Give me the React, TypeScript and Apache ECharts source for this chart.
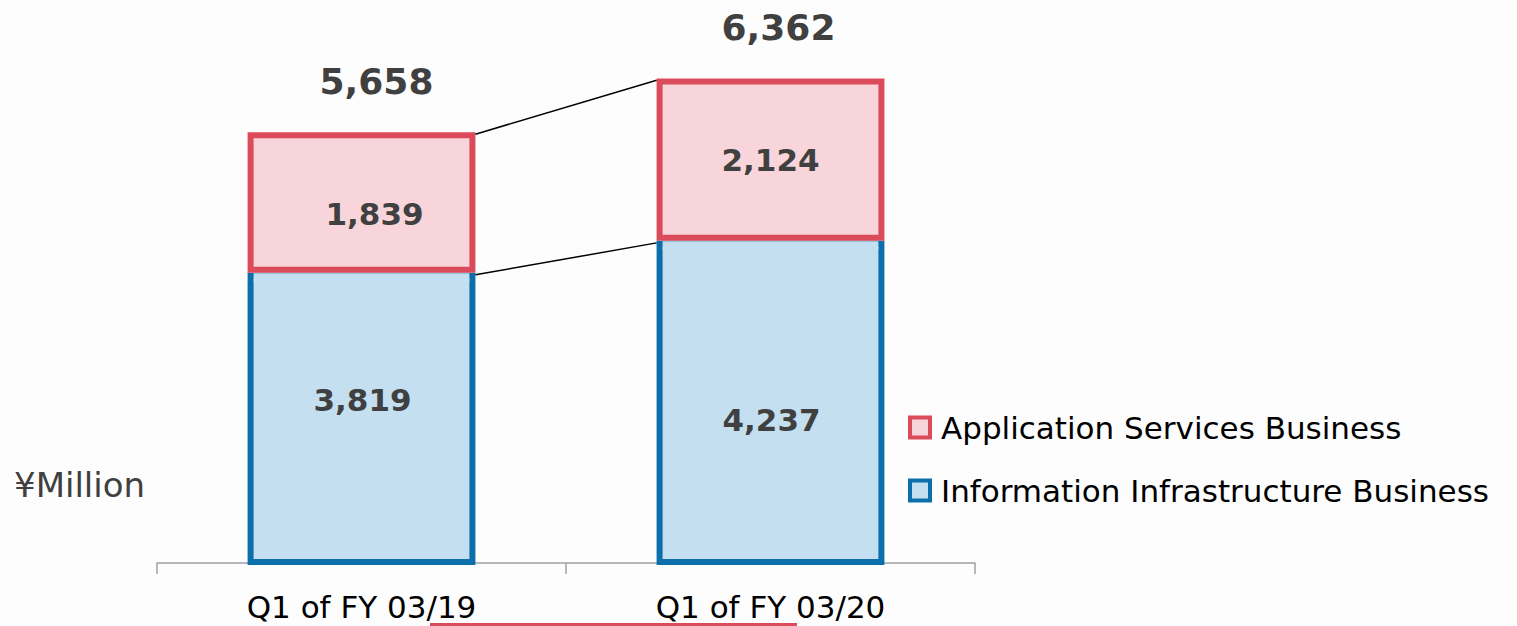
import React, { useEffect, useRef } from "react";
import * as echarts from "echarts";

const categories = ["Q1 of FY 03/19", "Q1 of FY 03/20"];
const infraValues = [3819, 4237];
const appValues = [1839, 2124];
const totals = [5658, 6362];
const seriesNames = ["Application Services Business", "Information Infrastructure Business"];

const FONT = "'DejaVu Sans', Verdana, sans-serif";
const RED = "#DB4B5A";
const PINK = "#F8D5DA";
const BLUE = "#0C6EAB";
const LIGHTBLUE = "#C3DFF0";
const NUM = "#404040";
const BAR_FRAC = 0.557;
const BORDER = 6;

const fmt = (v: number) => v.toLocaleString("en-US");

export default function App() {
  const ref = useRef<HTMLDivElement>(null);
  useEffect(() => {
    if (!ref.current) return;
    const chart = echarts.init(ref.current, undefined, { renderer: "svg" });
    const appOffsets = [[13, 11], [0, 0]];
    const infraOffsets = [[1, -19], [1, 17]];
    const totalOffsets = [[15, 0], [8, 0]];
    const labelBase = {
      show: true,
      position: "inside",
      formatter: (p: any) => fmt(p.value),
      fontFamily: FONT,
      fontSize: 31,
      fontWeight: "bold",
      color: NUM,
    };
    const option: any = {
      animation: false,
      backgroundColor: "#fdfdfd",
      grid: { left: 157, right: 542, top: 29.5, bottom: 61 },
      xAxis: {
        type: "category",
        data: categories,
        offset: -2,
        axisLine: { lineStyle: { color: "#a0a0a0", width: 1.5 } },
        axisTick: { show: true, length: 11, lineStyle: { color: "#a0a0a0", width: 1.5 } },
        axisLabel: { fontFamily: FONT, fontSize: 31, color: "#000", margin: 28 },
      },
      yAxis: { type: "value", min: 0, max: 7000, show: false, splitLine: { show: false } },
      legend: {
        orient: "vertical",
        left: 908,
        top: 412,
        padding: 0,
        itemWidth: 20,
        itemHeight: 20,
        itemGap: 32,
        textStyle: { fontFamily: FONT, fontSize: 31, color: "#000", padding: [0, 0, 0, 6] },
        data: [
          { name: seriesNames[0], icon: "rect", itemStyle: { color: PINK, borderColor: RED, borderWidth: 4 } },
          { name: seriesNames[1], icon: "rect", itemStyle: { color: LIGHTBLUE, borderColor: BLUE, borderWidth: 4 } },
        ],
      },
      graphic: [
        {
          type: "text",
          left: 14,
          top: 468,
          style: { text: "¥Million", fontFamily: FONT, fontSize: 34, fill: NUM },
        },
        {
          type: "rect",
          shape: { x: 430, y: 623, width: 367, height: 4 },
          style: { fill: RED },
        },
      ],
      series: [
        {
          name: seriesNames[1],
          type: "bar",
          stack: "total",
          barWidth: BAR_FRAC * 100 + "%",
          itemStyle: { color: LIGHTBLUE, borderColor: BLUE, borderWidth: BORDER },
          data: infraValues.map((v, i) => ({ value: v, label: { offset: infraOffsets[i] } })),
          label: labelBase,
        },
        {
          name: seriesNames[0],
          type: "bar",
          stack: "total",
          barWidth: BAR_FRAC * 100 + "%",
          itemStyle: { color: PINK, borderColor: RED, borderWidth: BORDER },
          data: appValues.map((v, i) => ({ value: v, label: { offset: appOffsets[i] } })),
          label: labelBase,
        },
        {
          type: "scatter",
          symbolSize: 0,
          silent: true,
          z: 5,
          itemStyle: { opacity: 1 },
          data: totals.map((v, i) => ({ value: v, label: { offset: totalOffsets[i] } })),
          label: {
            show: true,
            position: "top",
            distance: 33,
            formatter: (p: any) => fmt(p.value),
            fontFamily: FONT,
            fontSize: 36,
            fontWeight: "bold",
            color: NUM,
            opacity: 1,
          },
        },
        {
          type: "custom",
          silent: true,
          z: 4,
          encode: { x: 0, y: 1 },
          data: [
            [0, totals[0], totals[1], 0],
            [0, infraValues[0], infraValues[1], 1],
          ],
          renderItem: (params: any, api: any) => {
            const v0 = api.value(1);
            const v1 = api.value(2);
            const isBoundary = api.value(3) === 1;
            const p0 = api.coord([0, v0]);
            const p1 = api.coord([1, v1]);
            const half = (api.size([1, 0])[0] * BAR_FRAC) / 2;
            const children: any[] = [
              {
                type: "line",
                shape: { x1: p0[0] + half, y1: p0[1] + 2, x2: p1[0] - half, y2: p1[1] + 2 },
                style: { stroke: "#000", lineWidth: 1.5 },
              },
            ];
            if (isBoundary) {
              [p0, p1].forEach((p) => {
                children.push({
                  type: "rect",
                  shape: { x: p[0] - half + BORDER, y: p[1] + 0.5, width: 2 * half - 2 * BORDER, height: BORDER + 2 },
                  style: { fill: LIGHTBLUE },
                });
              });
            }
            return { type: "group", children };
          },
        },
      ],
    };
    chart.setOption(option);
    return () => chart.dispose();
  }, []);
  return (
    <div
      ref={ref}
      style={{ position: "fixed", left: 0, top: 0, width: 1517, height: 626 }}
    />
  );
}
